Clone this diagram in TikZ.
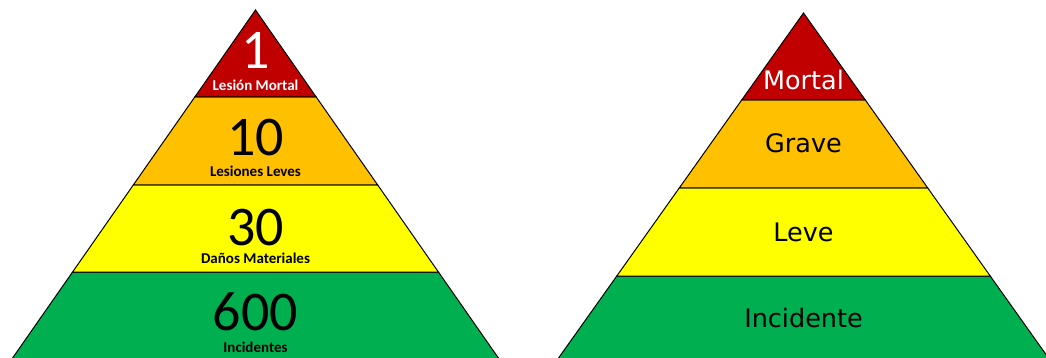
\documentclass[tikz,border=0pt]{standalone}
\usepackage{fontspec}
\setmainfont{Carlito}
\newfontfamily\dejav{DejaVu Sans}
\definecolor{pred}{HTML}{C00000}
\definecolor{porange}{HTML}{FFC000}
\definecolor{pyellow}{HTML}{FFFF00}
\definecolor{pgreen}{HTML}{00B050}
\tikzset{
  band/.style={draw=black, line width=1pt, line join=miter},
  bignum/.style={font=\fontsize{56}{56}\selectfont, inner sep=0pt, text height=36pt, text depth=0pt},
  smalllab/.style={font=\fontsize{15}{15}\selectfont\bfseries, inner sep=0pt},
  rlab/.style={font=\dejav\fontsize{25.5}{25.5}\selectfont, inner sep=0pt},
}
\begin{document}
\begin{tikzpicture}[x=1pt,y=-1pt]
\useasboundingbox (0,0) rectangle (1046,358);
\clip (0,0) rectangle (1046,358);
\fill[white] (0,0) rectangle (1046,358);
% left pyramid
\draw[band, fill=pgreen] (72.6,272) -- (438.4,272) -- (501.2,362) -- (9.8,362) -- cycle;
\draw[band, fill=pyellow] (133.3,185) -- (377.7,185) -- (438.4,272) -- (72.6,272) -- cycle;
\draw[band, fill=porange] (194.8,97) -- (316.2,97) -- (377.7,185) -- (133.3,185) -- cycle;
\draw[band, fill=pred] (255.5,10) -- (316.2,97) -- (194.8,97) -- cycle;
% right pyramid
\draw[band, fill=pgreen] (616.8,276) -- (990.2,276) -- (1051.3,362) -- (555.7,362) -- cycle;
\draw[band, fill=pyellow] (679.25,188) -- (927.75,188) -- (990.2,276) -- (616.8,276) -- cycle;
\draw[band, fill=porange] (741.7,100) -- (865.3,100) -- (927.75,188) -- (679.25,188) -- cycle;
\draw[band, fill=pred] (803.5,13) -- (865.3,100) -- (741.7,100) -- cycle;
% left texts
\node[bignum, text=white] (n1) at (255.5,51) {1};
\node[smalllab, text=white] (l1) at (255.5,85) {Lesión Mortal};
\node[bignum] (n10) at (255.5,138) {10};
\node[smalllab] (l10) at (255.5,171.5) {Lesiones Leves};
\node[bignum] (n30) at (255.5,227) {30};
\node[smalllab] (l30) at (255.5,258.5) {Daños Materiales};
\node[bignum] (n600) at (255.5,312) {600};
\node[smalllab] (l600) at (255.5,347.5) {Incidentes};
% right texts
\node[rlab, text=white] (rm) at (803.5,80) {Mortal};
\node[rlab] (rg) at (803.5,143) {Grave};
\node[rlab] (rl) at (803.5,232) {Leve};
\node[rlab] (ri) at (803.5,318) {Incidente};
\end{tikzpicture}
\end{document}
